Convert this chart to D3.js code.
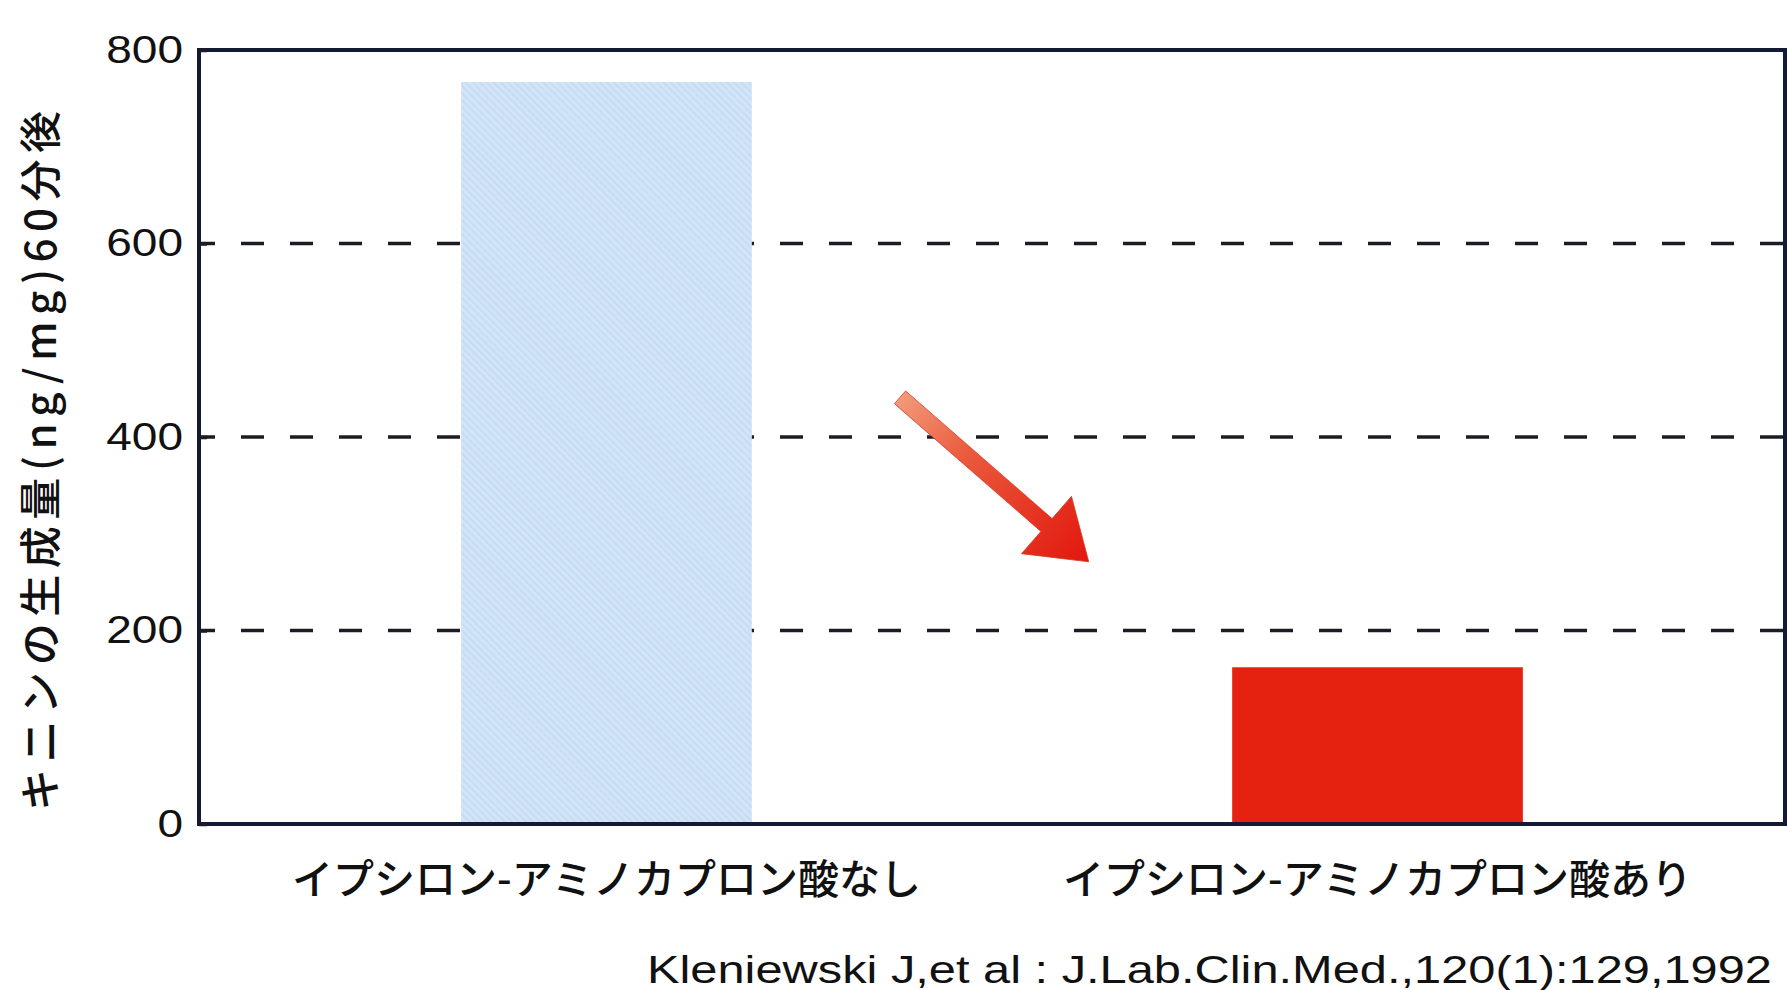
<!DOCTYPE html>
<html><head><meta charset="utf-8">
<script src="https://cdn.jsdelivr.net/npm/d3@7"></script>
<style>body{margin:0;background:#fff;} svg{display:block}</style>
</head><body>
<svg id="chart" width="1787" height="990"></svg>
<script>
// ---- data ----
const categories = ["イプシロン-アミノカプロン酸なし", "イプシロン-アミノカプロン酸あり"];
const values = [767, 162];
const yTicks = [0, 200, 400, 600, 800];
const gridValues = [200, 400, 600];
const yTitle = "キニンの生成量(ng/mg)60分後";
const citation = "Kleniewski J,et al : J.Lab.Clin.Med.,120(1):129,1992";
// annotation arrow: [fraction across plot, value]
const arrowFrom = [0.442, 441];
const arrowTo = [0.561, 271];

// ---- layout ----
const W = 1787, H = 990;
const m = {left: 199, top: 50, right: 2, bottom: 166};
const svg = d3.select("#chart");

const x = d3.scaleBand().domain(categories)
  .range([m.left, W - m.right]).paddingInner(0.623).paddingOuter(0.34);
const y = d3.scaleLinear().domain([0, 800]).range([H - m.bottom, m.top]);
const xf = d3.scaleLinear().domain([0, 1]).range([m.left, W - m.right]);

const defs = svg.append("defs");
const pat = defs.append("pattern").attr("id", "hatch")
  .attr("patternUnits", "userSpaceOnUse").attr("width", 5).attr("height", 5)
  .attr("patternTransform", "rotate(-45)");
pat.append("rect").attr("width", 5).attr("height", 5).attr("fill", "#d2e5f6");
pat.append("rect").attr("width", 1.6).attr("height", 5).attr("fill", "#c3daf0");

// gridlines
svg.append("g").selectAll("line").data(gridValues).join("line")
  .attr("x1", m.left).attr("x2", W - m.right)
  .attr("y1", d => y(d)).attr("y2", d => y(d))
  .attr("stroke", "#1c1c24").attr("stroke-width", 3.5)
  .attr("stroke-dasharray", "23 26").attr("stroke-dashoffset", 7);

// bars
svg.append("g").selectAll("rect").data(values).join("rect")
  .attr("x", (d, i) => x(categories[i]))
  .attr("width", x.bandwidth())
  .attr("y", d => y(d))
  .attr("height", d => y(0) - y(d))
  .attr("fill", (d, i) => i === 0 ? "url(#hatch)" : "#e5210f");

// arrow
const p0 = [xf(arrowFrom[0]), y(arrowFrom[1])];
const p1 = [xf(arrowTo[0]), y(arrowTo[1])];
const dx = p1[0] - p0[0], dy = p1[1] - p0[1];
const L = Math.hypot(dx, dy);
const u = [dx / L, dy / L], n = [-u[1], u[0]];
const hw = 8.5, hh = 38, hl = 56;
const neck = [p1[0] - u[0] * hl, p1[1] - u[1] * hl];
const pt = (b, k) => [b[0] + n[0] * k, b[1] + n[1] * k];
const poly = [pt(p0, hw), pt(neck, hw), pt(neck, hh), p1, pt(neck, -hh), pt(neck, -hw), pt(p0, -hw)];
const grad = defs.append("linearGradient").attr("id", "arrowGrad")
  .attr("gradientUnits", "userSpaceOnUse")
  .attr("x1", p0[0]).attr("y1", p0[1]).attr("x2", p1[0]).attr("y2", p1[1]);
grad.append("stop").attr("offset", 0).attr("stop-color", "#f29a7a");
grad.append("stop").attr("offset", 0.35).attr("stop-color", "#ea5a3c");
grad.append("stop").attr("offset", 1).attr("stop-color", "#e2170d");
svg.append("path").attr("d", "M" + poly.map(p => p.join(",")).join("L") + "Z")
  .attr("fill", "url(#arrowGrad)").attr("stroke", "#d8361e").attr("stroke-width", 0.8)
  .attr("stroke-linejoin", "miter");

// frame
svg.append("rect").attr("x", m.left).attr("y", m.top)
  .attr("width", W - m.right - m.left).attr("height", H - m.bottom - m.top)
  .attr("fill", "none").attr("stroke", "#131a33").attr("stroke-width", 4);

// y axis
const yAxis = svg.append("g").attr("transform", `translate(${m.left},0)`)
  .call(d3.axisLeft(y).tickValues(yTicks).tickSizeInner(-8).tickSizeOuter(0).tickPadding(16));
yAxis.select(".domain").remove();
yAxis.selectAll(".tick line").attr("stroke", "#1c1c24").attr("stroke-width", 3.5);
yAxis.selectAll(".tick text")
  .attr("font-family", "Liberation Sans, Arial, sans-serif")
  .attr("font-size", 38).attr("fill", "#111")
  .attr("textLength", d => String(d).length * 25.6)
  .attr("lengthAdjust", "spacingAndGlyphs");

// category labels
svg.append("g").selectAll("text").data(categories).join("text")
  .attr("x", d => x(d) + x.bandwidth() / 2)
  .attr("y", H - m.bottom + 52)
  .attr("text-anchor", "middle").attr("dominant-baseline", "central")
  .attr("font-family", "Noto Sans CJK JP, sans-serif")
  .attr("font-size", 41).attr("font-weight", 500).attr("fill", "#111")
  .text(d => d);

// y title
svg.append("text")
  .attr("transform", `translate(37,${(m.top + H - m.bottom) / 2 + 24}) rotate(-90)`)
  .attr("text-anchor", "middle").attr("dominant-baseline", "central")
  .attr("font-family", "Noto Sans CJK JP, sans-serif")
  .attr("font-size", 42).attr("font-weight", 500).attr("fill", "#111")
  .attr("textLength", 700).attr("lengthAdjust", "spacing")
  .text(yTitle);

// citation
svg.append("text")
  .attr("x", 647).attr("y", 983)
  .attr("font-family", "Liberation Sans, Arial, sans-serif")
  .attr("font-size", 38).attr("fill", "#111")
  .attr("textLength", 1125).attr("lengthAdjust", "spacingAndGlyphs")
  .text(citation);
</script>
</body></html>
